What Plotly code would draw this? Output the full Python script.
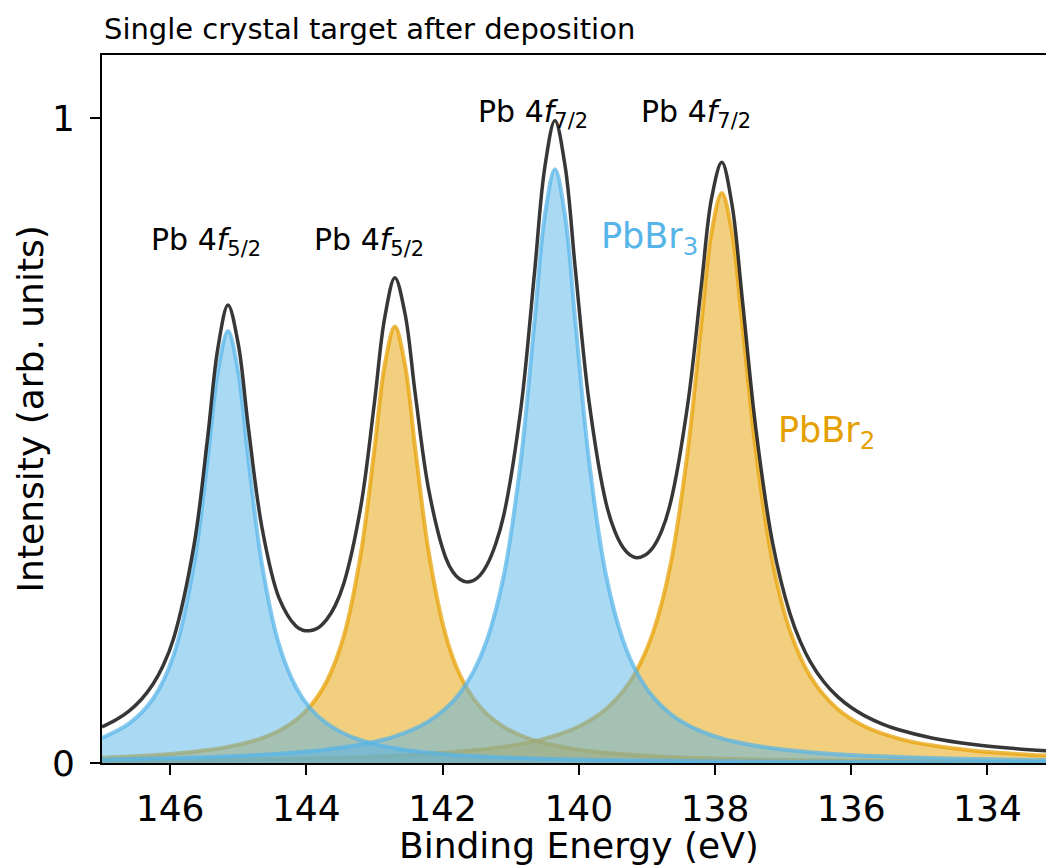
import plotly.graph_objects as go

# Binding energy sample points (eV) for the fitted components
energy = [147.00, 146.60, 146.25, 145.95, 145.65, 145.45, 145.30, 145.15, 145.00, 144.85,
          144.65, 144.40, 144.15, 143.95, 143.70, 143.45, 143.20, 143.00, 142.85, 142.70,
          142.55, 142.40, 142.20, 141.95, 141.75, 141.55, 141.35, 141.10, 140.85, 140.65,
          140.50, 140.35, 140.20, 140.05, 139.85, 139.60, 139.35, 139.15, 138.90, 138.65,
          138.40, 138.20, 138.05, 137.90, 137.75, 137.60, 137.40, 137.15, 136.90, 136.60,
          136.20, 135.80, 135.30, 134.80, 134.20, 133.60, 133.00]

# PbBr3 component, Pb 4f5/2
pbbr3_f52 = [0.0390, 0.0613, 0.0997, 0.1665, 0.3071, 0.4701, 0.6056, 0.6700, 0.6056, 0.4701,
             0.3071, 0.1832, 0.1170, 0.0858, 0.0613, 0.0457, 0.0353, 0.0293, 0.0258, 0.0228,
             0.0203, 0.0182, 0.0159, 0.0136, 0.0120, 0.0108, 0.0097, 0.0085, 0.0076, 0.0069,
             0.0065, 0.0061, 0.0057, 0.0054, 0.0050, 0.0046, 0.0042, 0.0039, 0.0036, 0.0033,
             0.0031, 0.0029, 0.0028, 0.0027, 0.0026, 0.0025, 0.0024, 0.0022, 0.0021, 0.0019,
             0.0018, 0.0016, 0.0015, 0.0013, 0.0012, 0.0011, 0.0010]

# PbBr2 component, Pb 4f5/2
pbbr2_f52 = [0.0083, 0.0101, 0.0122, 0.0145, 0.0175, 0.0200, 0.0223, 0.0250, 0.0283, 0.0322,
             0.0387, 0.0500, 0.0669, 0.0870, 0.1268, 0.1967, 0.3247, 0.4868, 0.6168, 0.6770,
             0.6168, 0.4868, 0.3247, 0.1967, 0.1377, 0.1005, 0.0760, 0.0559, 0.0427, 0.0352,
             0.0308, 0.0271, 0.0241, 0.0215, 0.0187, 0.0159, 0.0136, 0.0122, 0.0106, 0.0094,
             0.0083, 0.0076, 0.0071, 0.0067, 0.0063, 0.0059, 0.0055, 0.0050, 0.0046, 0.0042,
             0.0037, 0.0033, 0.0028, 0.0025, 0.0022, 0.0019, 0.0017]

# PbBr3 component, Pb 4f7/2
pbbr3_f72 = [0.0054, 0.0061, 0.0068, 0.0076, 0.0085, 0.0091, 0.0097, 0.0103, 0.0110, 0.0117,
             0.0128, 0.0144, 0.0163, 0.0181, 0.0209, 0.0243, 0.0286, 0.0329, 0.0368, 0.0414,
             0.0470, 0.0537, 0.0650, 0.0849, 0.1079, 0.1409, 0.1901, 0.2912, 0.4696, 0.6842,
             0.8477, 0.9210, 0.8477, 0.6842, 0.4696, 0.2912, 0.1901, 0.1409, 0.1014, 0.0760,
             0.0590, 0.0491, 0.0432, 0.0383, 0.0341, 0.0306, 0.0267, 0.0228, 0.0197, 0.0167,
             0.0137, 0.0114, 0.0093, 0.0077, 0.0063, 0.0052, 0.0044]

# PbBr2 component, Pb 4f7/2
pbbr2_f72 = [0.0032, 0.0035, 0.0038, 0.0041, 0.0044, 0.0047, 0.0049, 0.0051, 0.0053, 0.0055,
             0.0058, 0.0063, 0.0068, 0.0073, 0.0079, 0.0086, 0.0094, 0.0102, 0.0108, 0.0115,
             0.0122, 0.0130, 0.0142, 0.0160, 0.0177, 0.0196, 0.0219, 0.0254, 0.0297, 0.0340,
             0.0379, 0.0424, 0.0478, 0.0543, 0.0651, 0.0838, 0.1112, 0.1434, 0.2053, 0.3091,
             0.4840, 0.6813, 0.8228, 0.8840, 0.8228, 0.6813, 0.4840, 0.3091, 0.2053, 0.1342,
             0.0838, 0.0567, 0.0379, 0.0270, 0.0191, 0.0142, 0.0110]

# Measured envelope (its own sample points, denser in valleys and tails)
env_energy = [147.00, 146.80, 146.60, 146.42, 146.25, 146.10, 145.95, 145.65, 145.45, 145.30,
              145.15, 145.00, 144.85, 144.65, 144.40, 144.15, 144.05, 143.95, 143.83, 143.70,
              143.58, 143.45, 143.20, 143.00, 142.85, 142.70, 142.55, 142.40, 142.20, 141.95,
              141.85, 141.75, 141.65, 141.55, 141.45, 141.35, 141.22, 141.10, 140.85, 140.65,
              140.50, 140.35, 140.20, 140.05, 139.85, 139.60, 139.47, 139.35, 139.25, 139.15,
              139.03, 138.90, 138.78, 138.65, 138.40, 138.20, 138.05, 137.90, 137.75, 137.60,
              137.40, 137.15, 136.90, 136.75, 136.60, 136.40, 136.20, 136.00, 135.80, 135.55,
              135.30, 134.80, 134.20, 133.60, 133.00]
envelope = [0.0559, 0.0666, 0.0810, 0.0989, 0.1225, 0.1516, 0.1926, 0.3375, 0.5039, 0.6425,
            0.7104, 0.6501, 0.5194, 0.3644, 0.2558, 0.2120, 0.2059, 0.2052, 0.2094, 0.2228,
            0.2433, 0.2783, 0.3980, 0.5592, 0.6901, 0.7527, 0.6963, 0.5718, 0.4219, 0.3173,
            0.2967, 0.2853, 0.2809, 0.2827, 0.2909, 0.3067, 0.3397, 0.3850, 0.5496, 0.7603,
            0.9228, 0.9966, 0.9253, 0.7654, 0.5614, 0.4034, 0.3591, 0.3341, 0.3227, 0.3183,
            0.3221, 0.3359, 0.3607, 0.4049, 0.5564, 0.7409, 0.8759, 0.9316, 0.8658, 0.7204,
            0.5186, 0.3392, 0.2317, 0.1891, 0.1570, 0.1256, 0.1029, 0.0860, 0.0731, 0.0608,
            0.0515, 0.0385, 0.0287, 0.0224, 0.0180]

x_ticks = [146, 144, 142, 140, 138, 136, 134]
y_ticks = [0, 1]
y_tick_text = ["0", "1"]

# (label, energy of left edge, intensity of text centre, colour, size)
labels = [
    ("Pb 4<i>f</i><sub>5/2</sub>", 146.31, 0.8085, "black", 30),
    ("Pb 4<i>f</i><sub>5/2</sub>", 143.92, 0.8085, "black", 30),
    ("Pb 4<i>f</i><sub>7/2</sub>", 141.51, 1.0076, "black", 30),
    ("Pb 4<i>f</i><sub>7/2</sub>", 139.12, 1.0076, "black", 30),
    ("PbBr<sub>3</sub>", 139.70, 0.8133, "#56B4E9", 35),
    ("PbBr<sub>2</sub>", 137.11, 0.5132, "#E69F00", 35),
]

BLUE_LINE = "rgba(86,180,233,0.72)"
BLUE_FILL = "rgba(86,180,233,0.5)"
ORANGE_LINE = "rgba(230,159,0,0.72)"
ORANGE_FILL = "rgba(230,159,0,0.5)"

fig = go.Figure()

def comp(y, line_c, fill_c, name):
    fig.add_trace(go.Scatter(
        x=energy, y=y, mode="lines", name=name,
        line=dict(color=line_c, width=4, shape="spline", smoothing=1.0),
        fill="tozeroy", fillcolor=fill_c, hoverinfo="skip", showlegend=False))

comp(pbbr2_f52, ORANGE_LINE, ORANGE_FILL, "PbBr2 4f5/2")
comp(pbbr2_f72, ORANGE_LINE, ORANGE_FILL, "PbBr2 4f7/2")
comp(pbbr3_f52, BLUE_LINE, BLUE_FILL, "PbBr3 4f5/2")
comp(pbbr3_f72, BLUE_LINE, BLUE_FILL, "PbBr3 4f7/2")

fig.add_trace(go.Scatter(
    x=env_energy, y=envelope, mode="lines", name="Envelope",
    line=dict(color="rgba(20,20,20,0.85)", width=3.5, shape="spline", smoothing=1.0),
    showlegend=False))

annotations = []
for text, xe, yi, col, size in labels:
    annotations.append(dict(
        x=xe, y=yi, xref="x", yref="y", text=text, showarrow=False,
        xanchor="left", yanchor="middle",
        font=dict(family="DejaVu Sans", size=size, color=col)))

# title
annotations.append(dict(
    x=0, y=1.0367, xref="paper", yref="paper",
    text="Single crystal target after deposition", showarrow=False,
    xanchor="left", yanchor="middle",
    font=dict(family="DejaVu Sans", size=29, color="black")))
# x-axis title
annotations.append(dict(
    x=0.5048, y=-0.116, xref="paper", yref="paper",
    text="Binding Energy (eV)", showarrow=False,
    xanchor="center", yanchor="middle",
    font=dict(family="DejaVu Sans", size=36, color="black")))
# y-axis title
annotations.append(dict(
    x=-0.0768, y=0.5, xref="paper", yref="paper",
    text="Intensity (arb. units)", showarrow=False, textangle=-90,
    xanchor="center", yanchor="middle",
    font=dict(family="DejaVu Sans", size=36, color="black")))

fig.update_layout(
    width=1046, height=865,
    margin=dict(l=102, r=0, t=55, b=102),
    paper_bgcolor="white", plot_bgcolor="white",
    font=dict(family="DejaVu Sans", color="black"),
    annotations=annotations,
    showlegend=False,
)

fig.update_xaxes(
    range=[147, 133.14], tickvals=x_ticks, ticktext=[str(t) for t in x_ticks],
    showgrid=False, zeroline=False,
    showline=True, linecolor="black", linewidth=2, mirror=True,
    ticks="outside", ticklen=10, tickwidth=2, tickcolor="black",
    tickfont=dict(family="DejaVu Sans", size=36, color="black"),
    ticklabelstandoff=3,
)
fig.update_yaxes(
    range=[0, 1.098], tickvals=y_ticks, ticktext=y_tick_text,
    showgrid=False, zeroline=False,
    showline=True, linecolor="black", linewidth=2, mirror=False,
    ticks="outside", ticklen=10, tickwidth=2, tickcolor="black",
    tickfont=dict(family="DejaVu Sans", size=36, color="black"),
    ticklabelstandoff=8,
)

fig.write_html("out.html")
